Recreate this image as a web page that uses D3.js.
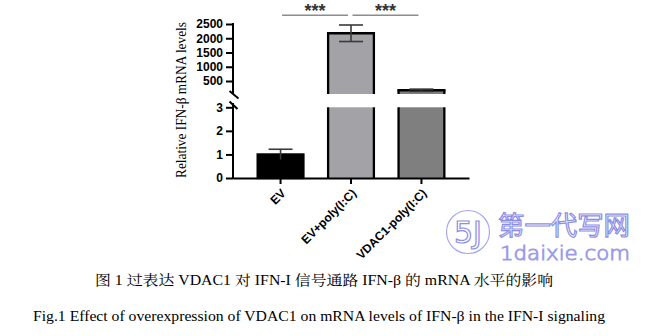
<!DOCTYPE html>
<html><head><meta charset="utf-8">
<script src="https://cdn.jsdelivr.net/npm/d3@7"></script>
<style>html,body{margin:0;padding:0;background:#fff;}svg{display:block;}</style>
</head><body>
<svg id="c" width="647" height="336"></svg>
<script>
// ---- data ----
const categories = ["EV", "EV+poly(I:C)", "VDAC1-poly(I:C)"];
const means = [1.0, 2175, 175];
const errors = [0.22, 290, 40];
const upperTicks = [500, 1000, 1500, 2000, 2500];
const lowerTicks = [0, 1, 2, 3];
const sigPairs = [[0, 1, "***"], [1, 2, "***"]];
const yLabel = "Relative IFN-β mRNA levels";
const captionCN = "图 1 过表达 VDAC1 对 IFN-I 信号通路 IFN-β 的 mRNA 水平的影响";
const captionEN = "Fig.1 Effect of overexpression of VDAC1 on mRNA levels of IFN-β in the IFN-I signaling";

// ---- styles ----
const fills = ["#000000", "#a2a2a7", "#7f7f7f"];
const sansBold = "'Liberation Sans', Arial, sans-serif";
const serif = "'Liberation Serif', 'Times New Roman', serif";
const serifCJK = "'Liberation Serif', 'Noto Serif CJK SC', 'Noto Sans CJK SC', serif";

const svg = d3.select("#c");
svg.append("rect").attr("width", 647).attr("height", 336).attr("fill", "#fff");

const x = d3.scaleBand().domain(categories).range([233, 469]).paddingInner(0.35).paddingOuter(0.35);
const lowMax = 3, highMin = 44;
const yLow = d3.scaleLinear().domain([0, lowMax]).range([178, 107.3]);
const yHigh = d3.scaleLinear().domain([500, 2500]).range([81, 24]);

const bw = x.bandwidth();
const g = svg.append("g");

// bars
categories.forEach((c, i) => {
  const v = means[i], x0 = x(c);
  if (v <= lowMax) {
    g.append("rect").attr("x", x0).attr("y", yLow(v)).attr("width", bw).attr("height", yLow(0) - yLow(v))
      .attr("fill", fills[i]).attr("stroke", "#000").attr("stroke-width", 2.3);
  } else {
    g.append("rect").attr("x", x0).attr("y", yLow(lowMax)).attr("width", bw).attr("height", yLow(0) - yLow(lowMax))
      .attr("fill", fills[i]);
    g.append("rect").attr("x", x0).attr("y", yHigh(v)).attr("width", bw).attr("height", yHigh(highMin) - yHigh(v))
      .attr("fill", fills[i]);
    const lines = [
      [x0, yLow(lowMax), x0, yLow(0)], [x0 + bw, yLow(lowMax), x0 + bw, yLow(0)],
      [x0, yHigh(highMin), x0, yHigh(v)], [x0 + bw, yHigh(highMin), x0 + bw, yHigh(v)],
      [x0 - 1.15, yHigh(v), x0 + bw + 1.15, yHigh(v)]
    ];
    lines.forEach(l => g.append("line").attr("x1", l[0]).attr("y1", l[1]).attr("x2", l[2]).attr("y2", l[3])
      .attr("stroke", "#000").attr("stroke-width", 2.3));
  }
});

// error bars
categories.forEach((c, i) => {
  const v = means[i], e = errors[i], cx = x(c) + bw / 2;
  const sc = v <= lowMax ? yLow : yHigh;
  const top = sc(v + e), bot = sc(v - e);
  const capW = 12;
  g.append("line").attr("x1", cx).attr("x2", cx).attr("y1", top).attr("y2", Math.min(bot, v <= lowMax ? yLow(0) : yHigh(highMin)))
    .attr("stroke", "#3a3a3a").attr("stroke-width", 1.6);
  g.append("line").attr("x1", cx - capW).attr("x2", cx + capW).attr("y1", top).attr("y2", top)
    .attr("stroke", "#3a3a3a").attr("stroke-width", 1.6);
  if (v > lowMax) {
    g.append("line").attr("x1", cx - capW).attr("x2", cx + capW).attr("y1", bot).attr("y2", bot)
      .attr("stroke", "#3a3a3a").attr("stroke-width", 1.6);
  }
});

// y axes
function styleAxis(sel) {
  sel.selectAll("line").attr("stroke", "#000").attr("stroke-width", 2);
  sel.selectAll("text").attr("font-family", sansBold).attr("font-weight", "bold").attr("font-size", 12).attr("fill", "#000");
  sel.select(".domain").remove();
}
const axHigh = svg.append("g").attr("transform", "translate(233,0)")
  .call(d3.axisLeft(yHigh).tickValues(upperTicks).tickSize(7).tickPadding(3).tickFormat(d3.format("d")));
styleAxis(axHigh);
const axLow = svg.append("g").attr("transform", "translate(233,0)")
  .call(d3.axisLeft(yLow).tickValues(lowerTicks).tickSize(7).tickPadding(3).tickFormat(d3.format("d")));
styleAxis(axLow);
svg.append("line").attr("x1", 233).attr("x2", 233).attr("y1", yHigh(2500) - 1).attr("y2", 94).attr("stroke", "#000").attr("stroke-width", 2);
svg.append("line").attr("x1", 233).attr("x2", 233).attr("y1", 103).attr("y2", yLow(0) + 1).attr("stroke", "#000").attr("stroke-width", 2);
[[229.5, 91, 238.5, 98.5], [229.5, 101.5, 237.5, 109]].forEach(l =>
  svg.append("line").attr("x1", l[0]).attr("y1", l[1]).attr("x2", l[2]).attr("y2", l[3]).attr("stroke", "#000").attr("stroke-width", 2));

// x axis
const axX = svg.append("g").attr("transform", `translate(0,${yLow(0)})`)
  .call(d3.axisBottom(x).tickSize(6).tickSizeOuter(0));
axX.select(".domain").attr("stroke", "#000").attr("stroke-width", 2);
axX.selectAll(".tick line").attr("stroke", "#000").attr("stroke-width", 2);
axX.selectAll(".tick text")
  .attr("font-family", sansBold).attr("font-weight", "bold").attr("font-size", 12).attr("fill", "#000")
  .attr("text-anchor", "end").attr("x", 0).attr("y", 0).attr("dy", "0.35em")
  .attr("transform", "translate(3,13) rotate(-45)");

// significance
sigPairs.forEach(([a, b, s]) => {
  const xa = x(categories[a]) + bw / 2 + 1.5, xb = x(categories[b]) + bw / 2 - 3;
  svg.append("line").attr("x1", xa).attr("x2", xb).attr("y1", 15.3).attr("y2", 15.3)
    .attr("stroke", "#8c8c8c").attr("stroke-width", 1.5);
  svg.append("text").attr("x", (xa + xb) / 2).attr("y", 16.5).attr("text-anchor", "middle")
    .attr("font-family", sansBold).attr("font-weight", "bold").attr("font-size", 18).attr("fill", "#333")
    .text(s);
});

// y label
svg.append("text").attr("transform", "translate(186,100) rotate(-90)").attr("text-anchor", "middle")
  .attr("font-family", serif).attr("font-size", 15).attr("fill", "#000")
  .attr("textLength", 156).attr("lengthAdjust", "spacingAndGlyphs").text(yLabel);

// watermark
const wm = svg.append("g").attr("opacity", 0.85);
wm.append("circle").attr("cx", 468).attr("cy", 232).attr("r", 21.5).attr("fill", "none").attr("stroke", "#9a9af0").attr("stroke-width", 1.2);
wm.append("text").attr("x", 468).attr("y", 243).attr("text-anchor", "middle").attr("font-family", "'DejaVu Sans', sans-serif")
  .attr("font-size", 30).attr("fill", "#fff").attr("stroke", "#7a7ae0").attr("stroke-width", 1.2).text("5J");
wm.append("text").attr("x", 498).attr("y", 235).attr("font-family", "'Noto Sans CJK SC', sans-serif")
  .attr("font-size", 26).attr("fill", "#fff").attr("stroke", "#7a7ae0").attr("stroke-width", 1.2)
  .attr("textLength", 132).attr("lengthAdjust", "spacingAndGlyphs").text("第一代写网");
wm.append("text").attr("x", 500).attr("y", 260).attr("font-family", "'DejaVu Sans', sans-serif").attr("font-weight", 300)
  .attr("font-size", 20).attr("fill", "#fff").attr("stroke", "#8a8ae8").attr("stroke-width", 1)
  .attr("textLength", 130).attr("lengthAdjust", "spacingAndGlyphs").text("1daixie.com");

// captions
svg.append("text").attr("x", 95).attr("y", 285).attr("font-family", serifCJK)
  .attr("font-size", 14).attr("fill", "#000").attr("textLength", 458).attr("lengthAdjust", "spacingAndGlyphs").text(captionCN);
svg.append("text").attr("x", 33).attr("y", 321).attr("font-family", serif)
  .attr("font-size", 14.5).attr("fill", "#000").attr("textLength", 572).attr("lengthAdjust", "spacingAndGlyphs").text(captionEN);
</script>
</body></html>
